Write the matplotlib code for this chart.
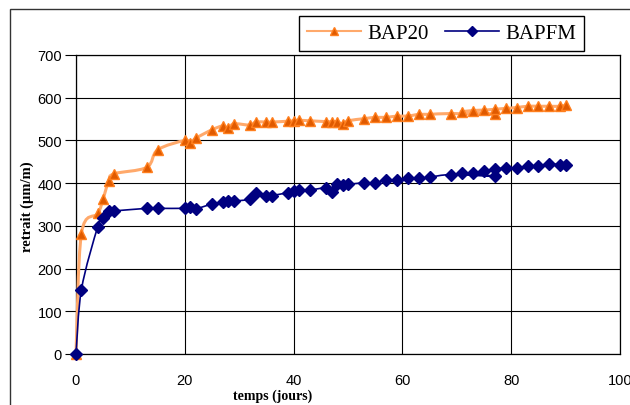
import matplotlib
matplotlib.use('Agg')
import matplotlib.pyplot as plt
import numpy as np
from matplotlib.path import Path
from matplotlib.patches import PathPatch, Rectangle
from matplotlib.lines import Line2D

# temps (jours) / retrait (um/m), in the row order of the sheet
bap20_days = [0, 1, 4, 5, 6, 7, 13, 15, 20, 21, 22, 25, 27, 28, 29, 32, 33, 35, 36, 39, 40, 41, 43,
              46, 47, 48, 49, 50, 53, 55, 57, 59, 61, 63, 65, 69, 77, 71, 73, 75, 77, 79, 81, 83,
              85, 87, 89, 90]
bap20_vals = [0, 282, 329, 364, 405, 422, 437, 478, 500, 494, 505, 525, 534, 528, 539, 536, 543, 543,
              543, 545, 546, 547, 546, 544, 544, 544, 539, 546, 551, 554, 554, 557, 557, 561, 561,
              563, 561, 566, 570, 571, 573, 575, 577, 580, 580, 580, 580, 583]

bapfm_days = [0, 1, 4, 5, 6, 7, 13, 15, 20, 21, 22, 25, 27, 28, 29, 32, 33, 35, 36, 39, 40, 41, 43,
              46, 47, 48, 49, 50, 53, 55, 57, 59, 61, 63, 65, 69, 77, 71, 73, 75, 77, 79, 81, 83,
              85, 87, 89, 90]
bapfm_vals = [0, 151, 298, 318, 335, 335, 341, 341, 341, 343, 340, 351, 355, 358, 358, 363, 378, 371,
              371, 378, 382, 384, 384, 389, 380, 397, 396, 397, 401, 401, 408, 407, 411, 411, 414,
              420, 416, 424, 424, 428, 433, 435, 435, 439, 441, 445, 443, 443]

x_ticks = [0, 20, 40, 60, 80, 100]
y_ticks = [0, 100, 200, 300, 400, 500, 600, 700]

orange_line = '#ffa96b'
orange_mark = '#e05a00'
orange_edge = '#ff7f1e'
navy = '#000080'


def smooth_path(xs, ys):
    # excel-like smoothed line: catmull-rom turned into cubic bezier pieces
    p = np.column_stack([xs, ys]).astype(float)
    p = np.vstack([p[0], p, p[-1]])
    verts = [p[1]]
    codes = [Path.MOVETO]
    for i in range(1, len(p) - 2):
        c1 = p[i] + (p[i + 1] - p[i - 1]) / 6.0
        c2 = p[i + 1] - (p[i + 2] - p[i]) / 6.0
        verts += [c1, c2, p[i + 1]]
        codes += [Path.CURVE4] * 3
    return Path(verts, codes)


fig = plt.figure(figsize=(6.3, 4.06), dpi=100)
ax = fig.add_axes([76 / 630, 51 / 406, 544 / 630, 299 / 406])

ax.add_patch(PathPatch(smooth_path(bap20_days, bap20_vals), fill=False, ec=orange_line, lw=2.2,
                       zorder=3, clip_on=False))
ax.plot(bap20_days, bap20_vals, ls='none', marker='^', ms=7, mfc=orange_mark, mec=orange_edge,
        mew=1, zorder=4, clip_on=False)
ax.add_patch(PathPatch(smooth_path(bapfm_days, bapfm_vals), fill=False, ec=navy, lw=1.2,
                       zorder=5, clip_on=False))
ax.plot(bapfm_days, bapfm_vals, ls='none', marker='D', ms=6, mfc=navy, mec=navy, zorder=6,
        clip_on=False)

ax.set_xlim(0, 100)
ax.set_ylim(0, 700)
ax.set_xticks(x_ticks)
ax.set_yticks(y_ticks)
ax.grid(True, color='black', lw=0.8)
ax.set_axisbelow(True)
for s in ax.spines.values():
    s.set_color('black')
    s.set_linewidth(0.9)
ax.tick_params(axis='y', direction='out', length=8, width=0.8, pad=2)
ax.tick_params(axis='x', length=0, pad=14)
for lab in ax.get_xticklabels() + ax.get_yticklabels():
    lab.set_fontfamily('Liberation Sans')
    lab.set_fontsize(10.5)

fig.text(273 / 630, 10 / 406, 'temps (jours)', ha='center', va='center', fontsize=10,
         fontweight='bold', family='Liberation Serif')
fig.text(27 / 630, (406 - 207) / 406, 'retrait (µm/m)', ha='center', va='center', rotation=90,
         fontsize=10.5, fontweight='bold', family='Liberation Serif')

handles = [Line2D([], [], color=orange_line, lw=1.5, marker='^', ms=6, mfc=orange_mark,
                  mec=orange_edge),
           Line2D([], [], color=navy, lw=1.2, marker='D', ms=5, mfc=navy, mec=navy)]
leg = ax.legend(handles, ['BAP20', 'BAPFM'], ncol=2, loc='center',
                bbox_to_anchor=(441.5 / 630, (406 - 34.5) / 406), bbox_transform=fig.transFigure,
                prop={'family': 'Liberation Serif', 'size': 15}, fancybox=False, framealpha=1,
                edgecolor='black', handlelength=2.6, handletextpad=0.3, columnspacing=0.8,
                borderpad=0.35, borderaxespad=0)
leg.get_frame().set_linewidth(1)
leg.set_zorder(20)

fig.add_artist(Rectangle((10 / 630, -0.2), 1.5, (406 - 10) / 406 + 0.2, transform=fig.transFigure,
                         fill=False, ec='#333333', lw=1))

fig.savefig('out.png', dpi=100)
